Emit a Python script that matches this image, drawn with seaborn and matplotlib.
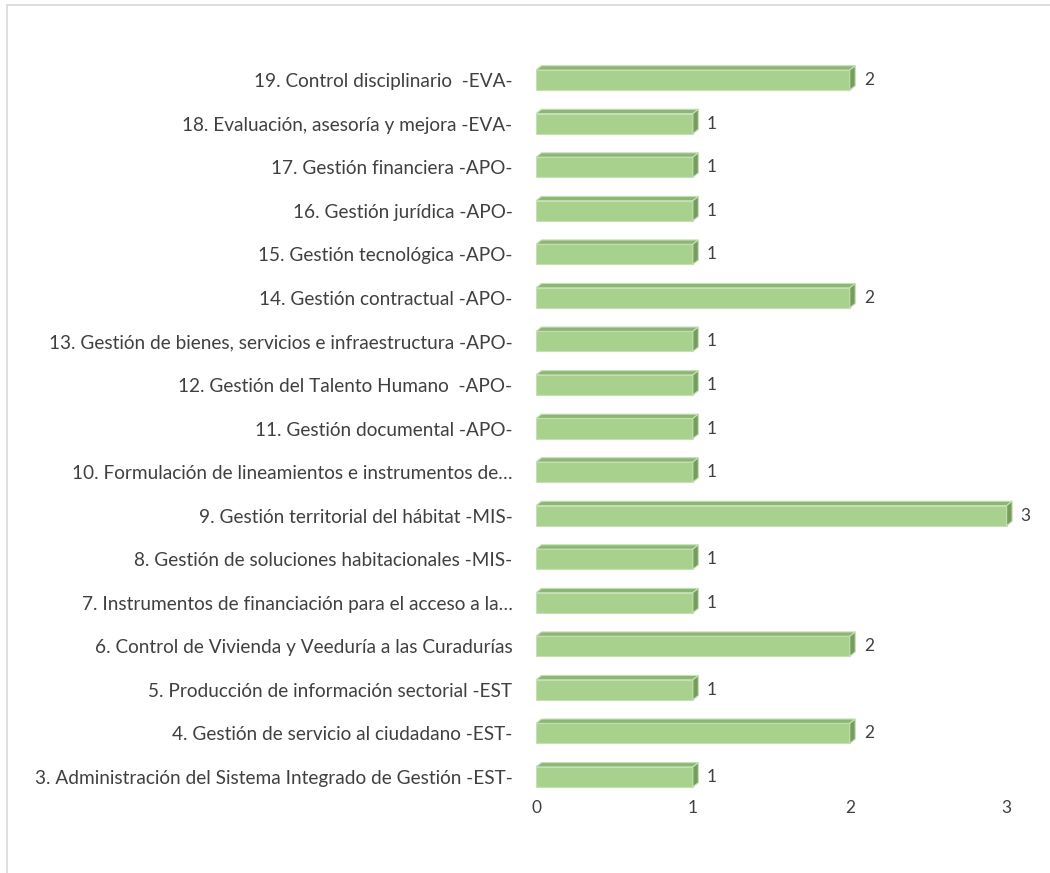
import numpy as np
import pandas as pd
import seaborn as sns
import matplotlib.pyplot as plt
from matplotlib.patches import Polygon, Rectangle

# data, top to bottom as in the chart
procesos = [
    "19. Control disciplinario  -EVA-",
    "18. Evaluación, asesoría y mejora -EVA-",
    "17. Gestión financiera -APO-",
    "16. Gestión jurídica -APO-",
    "15. Gestión tecnológica -APO-",
    "14. Gestión contractual -APO-",
    "13. Gestión de bienes, servicios e infraestructura -APO-",
    "12. Gestión del Talento Humano  -APO-",
    "11. Gestión documental -APO-",
    "10. Formulación de lineamientos e instrumentos de…",
    "9. Gestión territorial del hábitat -MIS-",
    "8. Gestión de soluciones habitacionales -MIS-",
    "7. Instrumentos de financiación para el acceso a la…",
    "6. Control de Vivienda y Veeduría a las Curadurías",
    "5. Producción de información sectorial -EST",
    "4. Gestión de servicio al ciudadano -EST-",
    "3. Administración del Sistema Integrado de Gestión -EST-",
]
cantidad = [2, 1, 1, 1, 1, 2, 1, 1, 1, 1, 3, 1, 1, 2, 1, 2, 1]
x_ticks = [0, 1, 2, 3]

df = pd.DataFrame({"proceso": procesos, "cantidad": cantidad})

sns.set_style("white")
plt.rcParams["font.family"] = ["Lato", "DejaVu Sans"]
TXT = "#404040"
FRONT = "#A9D18E"
TOP = "#8DB574"
SIDE = "#769D5E"
EDGE = "#C5E0B4"

fig = plt.figure(figsize=(10.5, 8.73), dpi=100)
ax = fig.add_axes([536 / 1050, 1 - 790 / 873, (1038 - 536) / 1050, (790 - 47) / 873])

sns.barplot(data=df, x="cantidad", y="proceso", order=procesos, color=FRONT,
            width=0.46, saturation=1, edgecolor=EDGE, linewidth=0.8, ax=ax)

# fake 3D faces built from the drawn bars
dx = 0.035
dy = 0.1
for p in list(ax.patches):
    x0, y0 = p.get_x(), p.get_y()
    w, h = p.get_width(), p.get_height()
    ytop = y0  # y axis inverted: smaller y is the top edge
    top = Polygon([(x0, ytop), (x0 + w, ytop), (x0 + w + dx, ytop - dy), (x0 + dx, ytop - dy)],
                  closed=True, facecolor=TOP, edgecolor=EDGE, linewidth=0.8)
    side = Polygon([(x0 + w, ytop), (x0 + w + dx, ytop - dy), (x0 + w + dx, y0 + h - dy), (x0 + w, y0 + h)],
                   closed=True, facecolor=SIDE, edgecolor=EDGE, linewidth=0.8)
    ax.add_patch(top)
    ax.add_patch(side)
    ax.text(x0 + w + 0.09, y0 + h / 2, f"{int(w)}", va="center", ha="left",
            fontsize=12.5, color=TXT)

ax.set_xlim(0, 3.2)
ax.set_ylim(16 + 0.3, -0.76)
ax.set_xticks(x_ticks)
ax.set_xticklabels([str(t) for t in x_ticks], fontsize=12.5, color=TXT)
ax.tick_params(axis="x", length=0, pad=7)
ax.tick_params(axis="y", length=0, pad=17)
for lab in ax.get_yticklabels():
    lab.set_fontsize(13.7)
    lab.set_color(TXT)
ax.set_xlabel("")
ax.set_ylabel("")
sns.despine(ax=ax, left=True, bottom=True)

# light frame of the chart area
fig.add_artist(Rectangle((7 / 1050, -0.1), 1.2, 1 - 5 / 873 + 0.1, transform=fig.transFigure,
                         fill=False, edgecolor="#D9D9D9", linewidth=1.2))

fig.savefig("out.png", dpi=100)
